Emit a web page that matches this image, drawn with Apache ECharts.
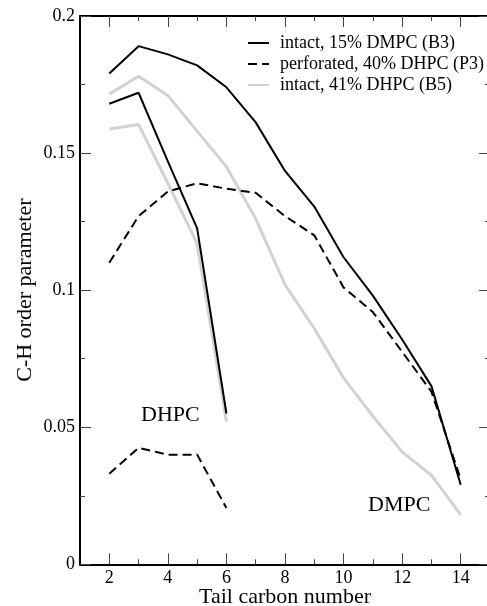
<!DOCTYPE html>
<html>
<head>
<meta charset="utf-8">
<script src="https://cdn.jsdelivr.net/npm/echarts@6/dist/echarts.min.js"></script>
<style>
html,body{margin:0;padding:0;background:#fff;}
#chart{width:487px;height:606px;}
</style>
</head>
<body>
<div id="chart"></div>
<script>
// Tail carbon numbers
var carbonsDMPC = [2,3,4,5,6,7,8,9,10,11,12,13,14];
var carbonsDHPC = [2,3,4,5,6];
// intact, 15% DMPC (B3)
var b3DMPC = [0.179,0.189,0.186,0.182,0.174,0.1612,0.1435,0.1305,0.112,0.098,0.082,0.065,0.029];
var b3DHPC = [0.168,0.172,0.147,0.1225,0.055];
// perforated, 40% DHPC (P3)
var p3DMPC = [0.110,0.127,0.136,0.139,0.137,0.1355,0.127,0.120,0.101,0.092,0.0775,0.063,0.031];
var p3DHPC = [0.033,0.0425,0.040,0.040,0.0205];
// intact, 41% DHPC (B5)
var b5DMPC = [0.1715,0.178,0.171,0.158,0.145,0.126,0.102,0.086,0.068,0.054,0.041,0.0325,0.018];
var b5DHPC = [0.1588,0.1604,0.139,0.117,0.052];
// ticks
var xMajorTicks = [2,4,6,8,10,12,14];
var xMinorTicks = [3,5,7,9,11,13];
var seriesNames = ['intact, 15% DMPC (B3)','perforated, 40% DHPC (P3)','intact, 41% DHPC (B5)'];

function pairs(xs, ys){ return xs.map(function(x,i){ return [x, ys[i]]; }); }

var FONT = '"Liberation Serif","Times New Roman",serif';
var chart = echarts.init(document.getElementById('chart'), null, {renderer:'canvas'});

function xAxisDef(pos, ticks, len, showLine, showLabels){
  return {
    type:'value', position:pos, min:1, max:15,
    axisLine:{show:showLine, onZero:false, lineStyle:{color:'#000', width:2}},
    axisTick:{show:true, inside:true, length:len, customValues:ticks, lineStyle:{color:'#444', width:1}},
    axisLabel:{show:showLabels, customValues:ticks, margin:5, color:'#000', fontFamily:FONT, fontSize:18},
    splitLine:{show:false}
  };
}
function yAxisDef(pos, showLabels){
  return {
    type:'value', position:pos, min:0, max:0.2, interval:0.05,
    axisLine:{show:true, onZero:false, lineStyle:{color:'#000', width:2}},
    axisTick:{show:true, inside:true, length:11, lineStyle:{color:'#444', width:1}},
    minorTick:{show:true, splitNumber:2, length:5, lineStyle:{color:'#444', width:1}},
    axisLabel:{show:showLabels, margin:5, color:'#000', fontFamily:FONT, fontSize:18},
    splitLine:{show:false}, minorSplitLine:{show:false}
  };
}

var xs = [
  xAxisDef('bottom', xMajorTicks, 11, true, true),
  xAxisDef('bottom', xMinorTicks, 5, false, false),
  xAxisDef('top', xMajorTicks, 11, true, false),
  xAxisDef('top', xMinorTicks, 5, false, false)
];
xs[0].name = 'Tail carbon number';
xs[0].nameLocation = 'middle';
xs[0].nameGap = 22;
xs[0].nameMoveOverlap = false;
xs[0].nameTextStyle = {fontFamily:FONT, fontSize:22, color:'#000'};

var ys = [yAxisDef('left', true), yAxisDef('right', false)];
ys[0].name = 'C-H order parameter';
ys[0].nameLocation = 'middle';
ys[0].nameGap = 44;
ys[0].nameMoveOverlap = false;
ys[0].nameTextStyle = {fontFamily:FONT, fontSize:22, color:'#000'};

var GRAY = '#d2d2d2';
function line(name, data, color, width, type, z){
  return {
    type:'line', name:name, data:data, symbol:'none', z:z,
    xAxisIndex:0, yAxisIndex:0,
    lineStyle:{color:color, width:width, type:type},
    itemStyle:{color:color},
    silent:true, animation:false
  };
}

var option = {
  animation:false,
  grid:{left:80, top:16, width:410, height:548.3, containLabel:false, outerBoundsMode:'none'},
  xAxis: xs,
  yAxis: ys,
  legend:{
    show:true, orient:'vertical', left:247, top:34, padding:0,
    itemWidth:21, itemHeight:14, itemGap:3,
    data: seriesNames,
    itemStyle:{color:'rgba(0,0,0,0)', borderWidth:0, opacity:0},
    textStyle:{fontFamily:FONT, fontSize:18, color:'#000', lineHeight:18, padding:[0,0,0,6]}
  },
  graphic:[
    {type:'text', left:141, top:404, style:{text:'DHPC', font:'22px ' + FONT, fill:'#000'}},
    {type:'text', left:368, top:494, style:{text:'DMPC', font:'22px ' + FONT, fill:'#000'}}
  ],
  series:[
    line(seriesNames[2], pairs(carbonsDMPC, b5DMPC), GRAY, 3, 'solid', 2),
    line(seriesNames[2], pairs(carbonsDHPC, b5DHPC), GRAY, 3, 'solid', 2),
    line(seriesNames[1], pairs(carbonsDMPC, p3DMPC), '#000', 2, [9,5], 3),
    line(seriesNames[1], pairs(carbonsDHPC, p3DHPC), '#000', 2, [9,5], 3),
    line(seriesNames[0], pairs(carbonsDMPC, b3DMPC), '#000', 2, 'solid', 4),
    line(seriesNames[0], pairs(carbonsDHPC, b3DHPC), '#000', 2, 'solid', 4)
  ]
};
chart.setOption(option);
</script>
</body>
</html>
